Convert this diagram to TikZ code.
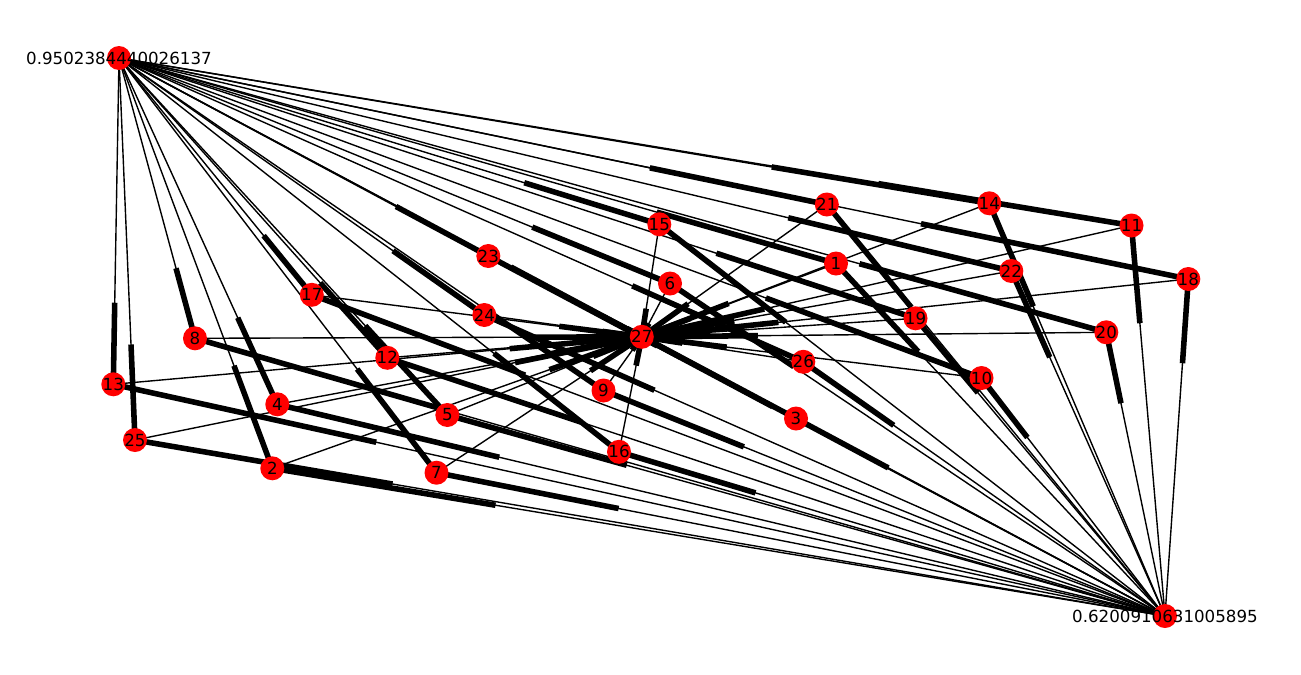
\documentclass[tikz,border=0pt]{standalone}
\usepackage{fontspec}
\setmainfont{DejaVu Sans}
\usetikzlibrary{calc}
\begin{document}
\begin{tikzpicture}[x=0.72pt,y=-0.72pt,
  edgeline/.style={line width=1pt,black},
  stub/.style={line width=4pt,black,line cap=butt},
  vertex/.style={circle,fill=red,draw=none,minimum size=24*0.72pt,inner sep=0pt},
  lbl/.style={font=\fontsize{12}{14}\selectfont,text=black,inner sep=0pt}]
\useasboundingbox (0,0) rectangle (1301,674);
\coordinate (S) at (119,58);
\coordinate (T) at (1165,616);
\foreach \i/\x/\y in {1/836/263.5,2/272.3/468.3,3/796/418.5,4/277.3/404.3,5/447.3/415,
  6/670/283.5,7/436.5/472.7,8/195/338.3,9/603.5/390.5,10/981.5/378,11/1131.5/225.5,
  12/387.3/357.8,13/113.3/384.3,14/989.3/203.3,15/659.3/224.3,16/619/451.8,
  17/311.8/294.8,18/1188.3/279,19/915.5/318.3,20/1106.3/332.3,21/826.8/204.5,
  22/1011.3/271,23/488.3/256,24/484.3/315,25/135/440,26/803.3/361.8,27/641.8/336.8}
  {\coordinate (n\i) at (\x,\y);}
% thin edges
\foreach \i in {1,...,27}{
  \draw[edgeline] (S) -- (n\i);
  \draw[edgeline] (T) -- (n\i);
}
\foreach \i in {1,...,26}{
  \draw[edgeline] (n\i) -- (n27);
}
% arrow stubs (last quarter of each edge)
\foreach \i in {1,...,27}{
  \draw[stub] ($(S)!0.75!(n\i)$) -- (n\i);
  \draw[stub] ($(T)!0.75!(n\i)$) -- (n\i);
}
\foreach \i in {1,...,26}{
  \draw[stub] ($(n\i)!0.75!(n27)$) -- (n27);
}
% vertices
\node[vertex] (vS) at (S) {};
\node[vertex] (vT) at (T) {};
\foreach \i in {1,...,27}{
  \node[vertex] (v\i) at (n\i) {};
}
\node[lbl] (lS) at (S) {0.9502384440026137};
\node[lbl] (lT) at (T) {0.6200910631005895};
\foreach \i in {1,...,27}{
  \node[lbl] (l\i) at (n\i) {\i};
}
\end{tikzpicture}
\end{document}
